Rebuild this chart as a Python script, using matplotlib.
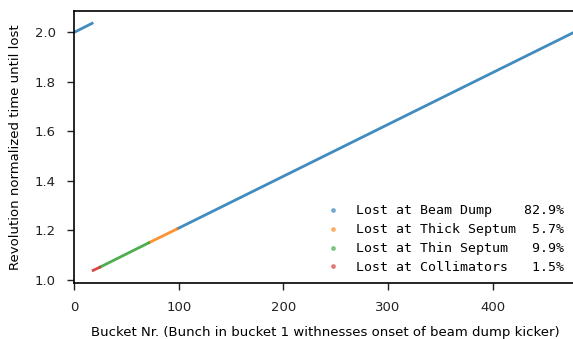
import numpy as np
from matplotlib import pyplot as plt
from matplotlib.lines import Line2D

# loss categories, share of buckets and the segments (first/last bucket, time)
names = ['Lost at Beam Dump', 'Lost at Thick Septum', 'Lost at Thin Septum', 'Lost at Collimators']
percent = [82.9, 5.7, 9.9, 1.5]
colors = ['#1f77b4', '#ff7f0e', '#2ca02c', '#d62728']

beam_dump_buckets = [[1, 17], [99, 477]]
beam_dump_times = [[2.002, 2.036], [1.207, 1.998]]
thick_septum_buckets = [[72, 98]]
thick_septum_times = [[1.151, 1.205]]
thin_septum_buckets = [[25, 71]]
thin_septum_times = [[1.052, 1.149]]
collimator_buckets = [[18, 24]]
collimator_times = [[1.038, 1.050]]

segments = [
    (beam_dump_buckets, beam_dump_times),
    (thick_septum_buckets, thick_septum_times),
    (thin_septum_buckets, thin_septum_times),
    (collimator_buckets, collimator_times),
]


def make_plot():
    fig = plt.figure(figsize=(5.73, 3.39), dpi=100)
    ax = fig.add_axes([0.1297, 0.166, 0.876, 0.8016])

    for (buckets, times), c in zip(segments, colors):
        for b, t in zip(buckets, times):
            ax.plot(b, t, color=c, lw=2.0, alpha=0.85)

    ax.set_xlim(0, 480)
    ax.margins(y=0.05)
    ax.set_xticks([0, 100, 200, 300, 400])
    ax.set_yticks(np.arange(1.0, 2.01, 0.2))

    ax.set_xlabel('Bucket Nr. (Bunch in bucket 1 withnesses onset of beam dump kicker)', fontsize=9.5, labelpad=8.5)
    ax.set_ylabel('Revolution normalized time until lost', fontsize=9.5, labelpad=9)
    ax.tick_params(labelsize=9.5, length=5, width=1.0, pad=8.5, colors='#222222', labelcolor='#222222')
    for s in ax.spines.values():
        s.set_linewidth(1.2)
    ax.spines['right'].set_visible(False)

    handles = [Line2D([], [], marker='o', ls='none', markersize=2.5, color=c, alpha=0.5) for c in colors]
    labels = [f"{n:<21}{p:4.1f}%" for n, p in zip(names, percent)]
    ax.legend(handles, labels, loc='lower right', frameon=False, bbox_to_anchor=(1.0, -0.012),
              prop={'family': 'DejaVu Sans Mono', 'size': 9.5}, labelspacing=0.45, handletextpad=0.8)

    fig.savefig('out.png', dpi=100)


if __name__ == "__main__":
    make_plot()
